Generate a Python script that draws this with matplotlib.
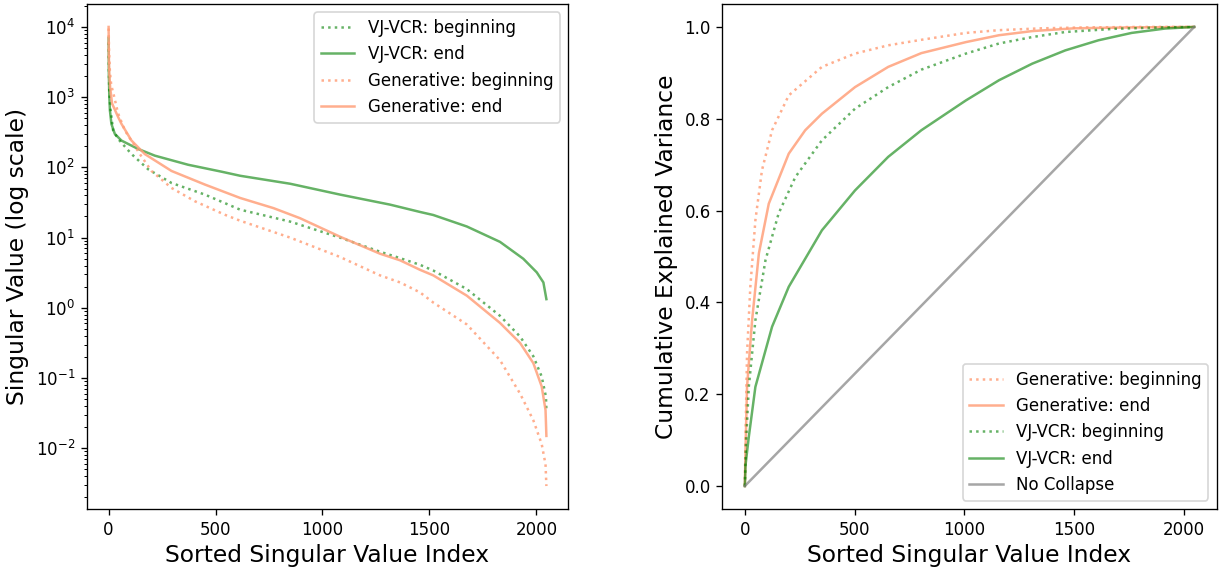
import matplotlib
matplotlib.use("Agg")
import matplotlib.pyplot as plt

# ---------------- data ----------------
# Left panel: sorted singular values (log scale)
vj_begin_idx = [0, 1, 3, 8, 21, 44, 107, 185, 294, 450, 615, 849, 1082, 1269, 1363, 1456, 1518, 1675, 1830, 1924, 1986, 2025, 2045, 2047]
vj_begin_sv = [6000, 2500, 1200, 700, 336, 255, 155, 94, 60, 41, 25, 16.9, 10.0, 6.3, 5.1, 4.1, 3.4, 1.85, 0.77, 0.39, 0.204, 0.105, 0.054, 0.035]

vj_end_idx = [0, 1, 3, 6, 13, 29, 60, 138, 216, 372, 527, 615, 849, 1082, 1316, 1456, 1518, 1675, 1830, 1939, 2002, 2033, 2047]
vj_end_sv = [7000, 2200, 1100, 650, 417, 300, 241, 183, 147, 109, 87, 76, 58.5, 41, 29.5, 23.2, 21.0, 14.4, 8.7, 5.0, 3.2, 2.3, 1.33]

gen_begin_idx = [0, 2, 6, 12, 26, 44, 76, 146, 200, 294, 403, 543, 615, 849, 1082, 1269, 1363, 1456, 1518, 1675, 1830, 1924, 1986, 2025, 2043, 2047]
gen_begin_sv = [9500, 4500, 2300, 1500, 1014, 590, 336, 155, 89, 51, 33, 21.2, 17.4, 10.0, 5.3, 2.9, 2.3, 1.66, 1.19, 0.58, 0.18, 0.06, 0.025, 0.0115, 0.0059, 0.0029]

gen_end_idx = [0, 1, 3, 7, 16, 44, 60, 107, 169, 294, 450, 615, 771, 895, 1082, 1269, 1363, 1456, 1518, 1675, 1830, 1924, 1986, 2025, 2043, 2047]
gen_end_sv = [10000, 4000, 2200, 1400, 815, 525, 417, 241, 155, 89, 57, 36.7, 26.3, 18.9, 10.3, 5.9, 4.75, 3.48, 2.9, 1.49, 0.61, 0.316, 0.163, 0.076, 0.035, 0.015]

# Right panel: cumulative explained variance
cev_gen_begin_idx = [0, 3, 10, 25, 48, 78, 124, 200, 351, 502, 653, 804, 1007, 1158, 1350, 1550, 1800, 2047]
cev_gen_begin = [0.0, 0.107, 0.289, 0.434, 0.579, 0.688, 0.775, 0.851, 0.913, 0.942, 0.960, 0.972, 0.987, 0.993, 0.997, 0.999, 1.0, 1.0]

cev_gen_end_idx = [0, 3, 10, 33, 64, 109, 200, 275, 351, 502, 653, 804, 1007, 1158, 1309, 1500, 1750, 2047]
cev_gen_end = [0.0, 0.08, 0.216, 0.361, 0.507, 0.615, 0.724, 0.775, 0.811, 0.869, 0.913, 0.943, 0.967, 0.982, 0.991, 0.997, 0.999, 1.0]

cev_vj_begin_idx = [0, 5, 18, 48, 94, 154, 230, 351, 502, 653, 804, 1007, 1158, 1309, 1460, 1686, 1900, 2047]
cev_vj_begin = [0.0, 0.09, 0.216, 0.361, 0.492, 0.594, 0.673, 0.753, 0.822, 0.869, 0.907, 0.942, 0.964, 0.978, 0.989, 0.996, 0.999, 1.0]

cev_vj_end_idx = [0, 3, 9, 18, 48, 124, 200, 351, 502, 653, 804, 1007, 1158, 1309, 1460, 1611, 1762, 1914, 2047]
cev_vj_end = [0.0, 0.045, 0.07, 0.107, 0.216, 0.347, 0.434, 0.557, 0.644, 0.717, 0.775, 0.840, 0.884, 0.920, 0.949, 0.971, 0.987, 0.9965, 1.0]

no_collapse_idx = [0, 2047]
no_collapse = [0.0, 1.0]

# ---------------- styling ----------------
GREEN = "green"
ORANGE = "lightsalmon"
A_GREEN = 0.6
A_ORANGE = 0.85

fig = plt.figure(figsize=(1225 / 120, 571 / 120), dpi=120)
ax1 = fig.add_axes([0.0708, 0.1086, 0.3931, 0.8844])
ax2 = fig.add_axes([0.5897, 0.1086, 0.4035, 0.8844])

# Left panel
ax1.plot(vj_begin_idx, vj_begin_sv, ":", color=GREEN, alpha=A_GREEN, lw=1.5, label="VJ-VCR: beginning")
ax1.plot(vj_end_idx, vj_end_sv, "-", color=GREEN, alpha=A_GREEN, lw=1.5, label="VJ-VCR: end")
ax1.plot(gen_begin_idx, gen_begin_sv, ":", color=ORANGE, alpha=A_ORANGE, lw=1.5, label="Generative: beginning")
ax1.plot(gen_end_idx, gen_end_sv, "-", color=ORANGE, alpha=A_ORANGE, lw=1.5, label="Generative: end")
ax1.set_yscale("log")
ax1.set_xlabel("Sorted Singular Value Index", fontsize=14, labelpad=3)
ax1.set_ylabel("Singular Value (log scale)", fontsize=14)
ax1.set_xticks([0, 500, 1000, 1500, 2000])
ax1.legend(loc="upper right", fontsize=10)

# Right panel
ax2.plot(cev_gen_begin_idx, cev_gen_begin, ":", color=ORANGE, alpha=A_ORANGE, lw=1.5, label="Generative: beginning")
ax2.plot(cev_gen_end_idx, cev_gen_end, "-", color=ORANGE, alpha=A_ORANGE, lw=1.5, label="Generative: end")
ax2.plot(cev_vj_begin_idx, cev_vj_begin, ":", color=GREEN, alpha=A_GREEN, lw=1.5, label="VJ-VCR: beginning")
ax2.plot(cev_vj_end_idx, cev_vj_end, "-", color=GREEN, alpha=A_GREEN, lw=1.5, label="VJ-VCR: end")
ax2.plot(no_collapse_idx, no_collapse, "-", color="gray", alpha=0.7, lw=1.5, label="No Collapse")
ax2.set_xlabel("Sorted Singular Value Index", fontsize=14, labelpad=3)
ax2.set_ylabel("Cumulative Explained Variance", fontsize=14)
ax2.set_xticks([0, 500, 1000, 1500, 2000])
ax2.set_yticks([0.0, 0.2, 0.4, 0.6, 0.8, 1.0])
ax2.legend(loc="lower right", fontsize=10)

fig.savefig("out.png", dpi=120)
